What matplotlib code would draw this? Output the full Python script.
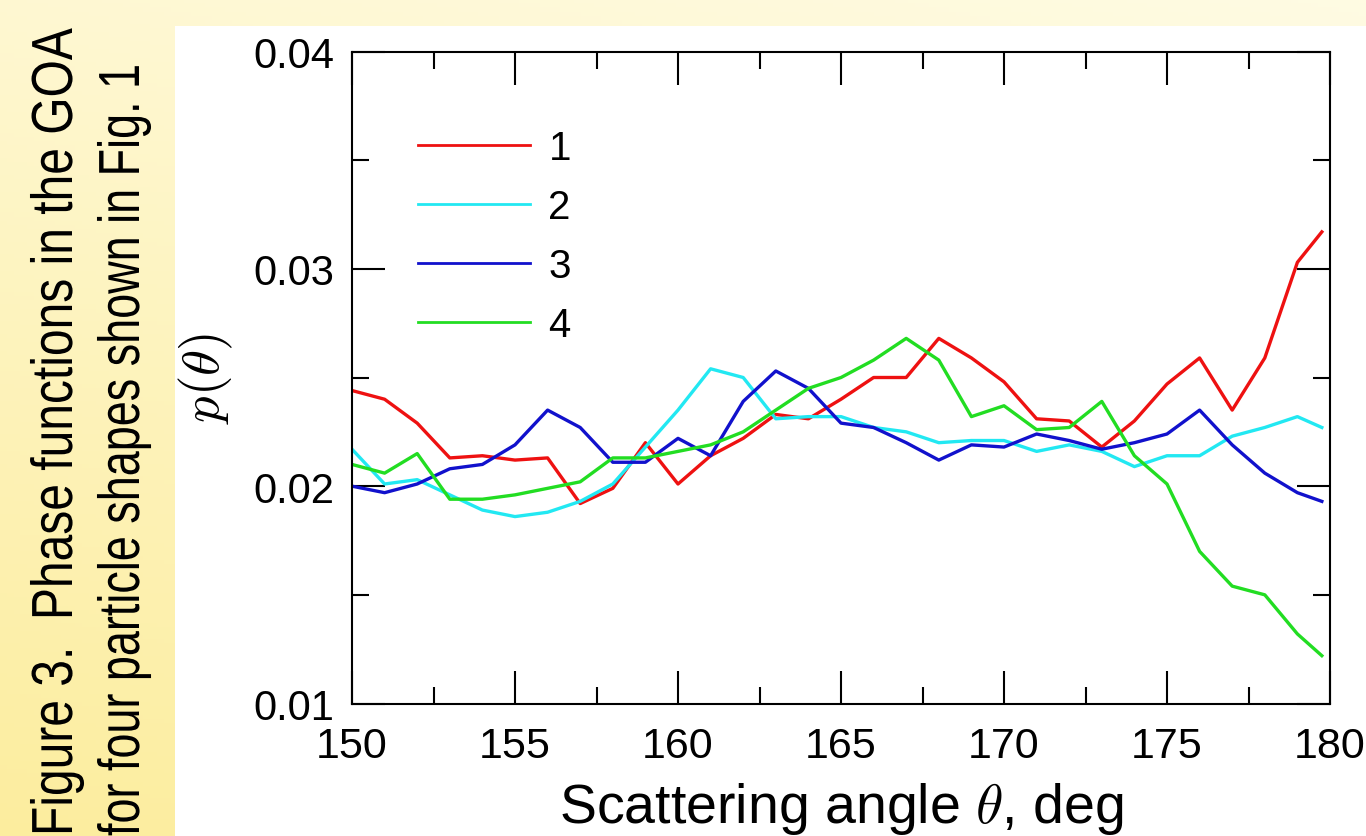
import numpy as np
import matplotlib.pyplot as plt
from matplotlib.patches import Rectangle, PathPatch
from matplotlib.textpath import TextPath
from matplotlib.font_manager import FontProperties
from matplotlib.transforms import Affine2D
from matplotlib.ticker import MultipleLocator, FormatStrFormatter

plt.rcParams['mathtext.fontset'] = 'cm'

# scattering angles, deg (last sample sits just short of 180)
theta = [150, 151, 152, 153, 154, 155, 156, 157, 158, 159,
         160, 161, 162, 163, 164, 165, 166, 167, 168, 169,
         170, 171, 172, 173, 174, 175, 176, 177, 178, 179, 179.75]

p_shape1 = [0.0244, 0.0240, 0.0229, 0.0213, 0.0214, 0.0212, 0.0213, 0.0192, 0.0199, 0.0220,
            0.0201, 0.0214, 0.0222, 0.0233, 0.0231, 0.0240, 0.0250, 0.0250, 0.0268, 0.0259,
            0.0248, 0.0231, 0.0230, 0.0218, 0.0230, 0.0247, 0.0259, 0.0235, 0.0259, 0.0303, 0.0317]
p_shape2 = [0.0217, 0.0201, 0.0203, 0.0196, 0.0189, 0.0186, 0.0188, 0.0193, 0.0201, 0.0218,
            0.0235, 0.0254, 0.0250, 0.0231, 0.0232, 0.0232, 0.0227, 0.0225, 0.0220, 0.0221,
            0.0221, 0.0216, 0.0219, 0.0216, 0.0209, 0.0214, 0.0214, 0.0223, 0.0227, 0.0232, 0.0227]
p_shape3 = [0.0200, 0.0197, 0.0201, 0.0208, 0.0210, 0.0219, 0.0235, 0.0227, 0.0211, 0.0211,
            0.0222, 0.0214, 0.0239, 0.0253, 0.0245, 0.0229, 0.0227, 0.0220, 0.0212, 0.0219,
            0.0218, 0.0224, 0.0221, 0.0217, 0.0220, 0.0224, 0.0235, 0.0219, 0.0206, 0.0197, 0.0193]
p_shape4 = [0.0210, 0.0206, 0.0215, 0.0194, 0.0194, 0.0196, 0.0199, 0.0202, 0.0213, 0.0213,
            0.0216, 0.0219, 0.0225, 0.0235, 0.0245, 0.0250, 0.0258, 0.0268, 0.0258, 0.0232,
            0.0237, 0.0226, 0.0227, 0.0239, 0.0214, 0.0201, 0.0170, 0.0154, 0.0150, 0.0132, 0.0122]

labels = ['1', '2', '3', '4']
colors = ['#ee1111', '#22e8f2', '#1111cc', '#22dd22']

caption_1 = 'Figure 3.  Phase functions in the GOA'
caption_2 = 'for four particle shapes shown in Fig. 1'

W, H = 1366, 837
fig = plt.figure(figsize=(W / 100, H / 100), dpi=100)

# slide background: cream, turning more yellow towards the bottom left
bg = fig.add_axes([0, 0, 1, 1], zorder=-10)
yy, xx = np.mgrid[0:1:200j, 0:1:200j]
t = np.clip(0.75 * yy + 0.25 * (1 - xx), 0, 1)
top = np.array([1.0, 0.985, 0.89])
bot = np.array([0.99, 0.93, 0.62])
img = top[None, None, :] * (1 - t[..., None]) + bot[None, None, :] * t[..., None]
bg.imshow(img, aspect='auto', extent=[0, 1, 0, 1], origin='upper')
bg.set_axis_off()
bg.add_patch(Rectangle((175 / W, 0), 1 - 175 / W, 1 - 27 / H,
                       transform=bg.transAxes, facecolor='white', edgecolor='none'))

# vertical caption, drawn as condensed glyph outlines (pixel coordinates)
fp = FontProperties(family='Liberation Sans')
for line, base_x, squeeze in [(caption_1, 72, 0.827), (caption_2, 139, 0.775)]:
    tp = TextPath((0, 0), line, size=58, prop=fp)
    tr = Affine2D().scale(squeeze, 1).rotate_deg(90).translate(base_x, 0)
    fig.add_artist(PathPatch(tp, transform=tr, facecolor='black', edgecolor='none'))

ax = fig.add_axes([352 / W, 1 - 704.5 / H, (1330 - 352) / W, (704.5 - 52.5) / H])
for y, lab, c in zip([p_shape1, p_shape2, p_shape3, p_shape4], labels, colors):
    ax.plot(theta, y, color=c, lw=2.4, label=lab)

ax.set_xlim(150, 180)
ax.set_ylim(0.01, 0.04)
ax.xaxis.set_major_locator(MultipleLocator(5))
ax.xaxis.set_minor_locator(MultipleLocator(2.5))
ax.yaxis.set_major_locator(MultipleLocator(0.01))
ax.yaxis.set_minor_locator(MultipleLocator(0.005))
ax.yaxis.set_major_formatter(FormatStrFormatter('%.2f'))
ax.tick_params(which='both', direction='in', top=True, right=True, width=1.5)
ax.tick_params(which='major', length=24)
ax.tick_params(which='minor', length=12)
ax.tick_params(axis='y', labelsize=30, pad=13)
ax.tick_params(axis='x', labelsize=31, pad=16)
for tl in ax.get_xticklabels() + ax.get_yticklabels():
    tl.set_family('Liberation Sans')
for s in ax.spines.values():
    s.set_linewidth(1.5)

ax.set_xlabel(r'Scattering angle $\theta$, deg', fontsize=40, family='Liberation Sans', labelpad=10)
ax.set_ylabel(r'$p(\theta)$', fontsize=38)
ax.yaxis.set_label_coords(-0.12, 0.5)

leg = ax.legend(loc='upper left', bbox_to_anchor=(0.03, 0.937), frameon=False,
                handlelength=2.8, handletextpad=0.45, labelspacing=0.52,
                prop={'family': 'Liberation Sans', 'size': 29})
for h in leg.get_lines():
    h.set_linewidth(2)

fig.savefig('out.png', dpi=100)
